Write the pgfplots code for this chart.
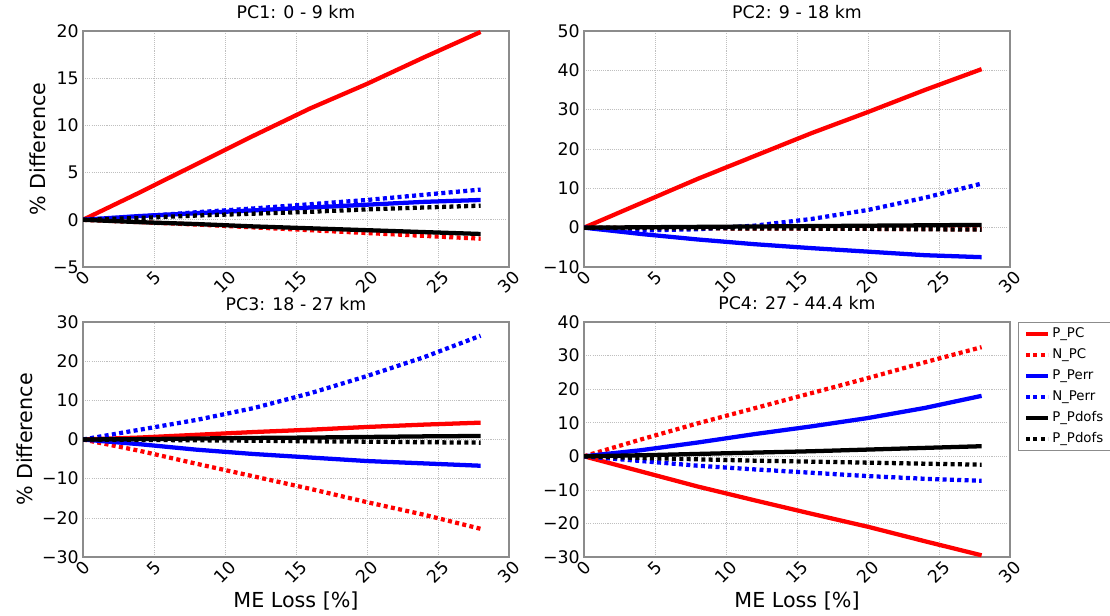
\documentclass[border=0pt]{standalone}
\usepackage{pgfplots}
\pgfplotsset{compat=1.18}
\usepackage{pgfplotstable}
\usepackage{graphicx}
\usepackage{fontspec}
\setmainfont{DejaVu Sans}

\pgfplotstableread{
x  PPC   NPC   PPerr NPerr PPd   NPd
0  0     0     0     0     0     0
4  2.9   -0.25 0.4   0.35  -0.25 0.2
8  5.9   -0.5  0.7   0.8   -0.45 0.45
12 8.9   -0.8  1.0   1.2   -0.7  0.65
16 11.8  -1.1  1.3   1.65  -0.9  0.85
20 14.4  -1.4  1.6   2.1   -1.1  1.1
24 17.2  -1.7  1.9   2.65  -1.3  1.3
28 19.9  -2.0  2.1   3.2   -1.5  1.5
}\tabA
\pgfplotstableread{
x  PPC   NPC   PPerr NPerr PPd   NPd
0  0     0     0     0     0     0
4  6.2   -0.1  -1.6  -0.7  0.1   -0.1
8  12.4  -0.15 -3.0  -0.4  0.2   -0.15
12 18.2  -0.2  -4.2  0.5   0.3   -0.2
16 24.0  -0.25 -5.2  2.2   0.4   -0.25
20 29.4  -0.3  -6.1  4.5   0.5   -0.3
24 35.0  -0.35 -7.0  7.6   0.6   -0.4
28 40.3  -0.4  -7.5  11.2  0.7   -0.5
}\tabB
\pgfplotstableread{
x  PPC   NPC   PPerr NPerr PPd   NPd
0  0     0     0     0     0     0
4  0.5   -2.9  -1.2  2.5   0.1   -0.1
8  1.2   -6.2  -2.6  5.0   0.25  -0.2
12 1.9   -9.4  -3.7  8.0   0.4   -0.3
16 2.5   -12.6 -4.6  11.8  0.5   -0.45
20 3.2   -16.0 -5.5  16.2  0.65  -0.55
24 3.8   -19.2 -6.1  21.0  0.8   -0.7
28 4.3   -22.8 -6.7  26.5  0.9   -0.8
}\tabC
\pgfplotstableread{
x  PPC   NPC   PPerr NPerr PPd   NPd
0  0     0     0     0     0     0
4  -4.5  5.0   1.8   -1.4  0.3   -0.5
8  -9.0  9.8   4.1   -2.8  0.7   -0.9
12 -13.1 14.3  6.6   -3.9  1.1   -1.3
16 -17.1 18.8  8.9   -4.9  1.5   -1.6
20 -21.0 23.3  11.4  -5.9  2.0   -1.9
24 -25.3 28.0  14.4  -6.7  2.5   -2.2
28 -29.5 32.5  18.0  -7.3  3.0   -2.5
}\tabD

\pgfplotsset{
  panel/.style={
    scale only axis, width=319.5pt, height=177pt, anchor=south west,
    xmin=0, xmax=30, xtick={0,5,10,15,20,25,30},
    xticklabels={\rotatebox{45}{0},\rotatebox{45}{5},\rotatebox{45}{10},\rotatebox{45}{15},\rotatebox{45}{20},\rotatebox{45}{25},\rotatebox{45}{30}},
    xticklabel style={anchor=north, inner sep=1pt, yshift=-1pt},
    yticklabel style={anchor=east, inner sep=1pt, xshift=-2pt},
    tick label style={font=\fontsize{13}{13}\selectfont},
    major tick length=0pt,
    grid=major,
    grid style={gray!50, line width=0.5pt, dash pattern=on 0.8pt off 0.8pt},
    axis line style={gray!90, line width=1pt},
    title style={at={(axis description cs:0.5,1)}, anchor=base, yshift=3pt, font=\fontsize{13}{13}\selectfont},
    every axis x label/.style={at={(axis description cs:0.5,-0.217)}, anchor=base, font=\fontsize{15.5}{16}\selectfont},
    every axis y label/.style={at={(axis description cs:-0.1056,0.5)}, rotate=90, anchor=center, font=\fontsize{15.5}{16}\selectfont},
    legend image code/.code={\draw[##1] (0pt,0pt) -- (16.5pt,0pt);},
  },
  sol/.style={line width=3.2pt, line join=round, solid},
  dot/.style={line width=3.2pt, line cap=butt, dash pattern=on 3pt off 2.5pt},
}

\newcommand{\sixplots}[1]{%
  \addplot[red, sol, no marks] table[x=x, y=PPC] {#1};
  \addplot[red, dot, no marks] table[x=x, y=NPC] {#1};
  \addplot[blue, sol, no marks] table[x=x, y=PPerr] {#1};
  \addplot[blue, dot, no marks] table[x=x, y=NPerr] {#1};
  \addplot[black, sol, no marks] table[x=x, y=PPd] {#1};
  \addplot[black, dot, no marks] table[x=x, y=NPd] {#1};
}

\begin{document}
\begin{tikzpicture}
\path (0,0) rectangle (832.5pt,460.5pt);

\begin{axis}[panel, at={(62.25pt,260.25pt)},
  title={PC1: 0 - 9 km},
  ymin=-5, ymax=20, ytick={-5,0,5,10,15,20},
  yticklabels={−5,0,5,10,15,20},
  ylabel={\% Difference}]
\sixplots{\tabA}
\end{axis}

\begin{axis}[panel, at={(438pt,260.25pt)},
  title={PC2: 9 - 18 km},
  ymin=-10, ymax=50, ytick={-10,0,10,20,30,40,50},
  yticklabels={−10,0,10,20,30,40,50}]
\sixplots{\tabB}
\end{axis}

\begin{axis}[panel, at={(62.25pt,42.75pt)}, height=176.25pt,
  title={PC3: 18 - 27 km},
  ymin=-30, ymax=30, ytick={-30,-20,-10,0,10,20,30},
  yticklabels={−30,−20,−10,0,10,20,30},
  every axis y label/.style={at={(axis description cs:-0.1362,0.5)}, rotate=90, anchor=center, font=\fontsize{15.5}{16}\selectfont},
  ylabel={\% Difference}, xlabel={ME Loss [\%]}]
\sixplots{\tabC}
\end{axis}

\begin{axis}[panel, at={(438pt,42.75pt)}, height=176.25pt,
  title={PC4: 27 - 44.4 km},
  ymin=-30, ymax=40, ytick={-30,-20,-10,0,10,20,30,40},
  yticklabels={−30,−20,−10,0,10,20,30,40},
  xlabel={ME Loss [\%]},
  legend style={at={(axis description cs:1,1)}, xshift=6pt, anchor=north west, overlay,
    draw=gray!90, line width=1pt, font=\fontsize{10}{10}\selectfont,
    inner xsep=4pt, inner ysep=2.5pt, row sep=3.5pt,
    nodes={inner sep=1.5pt, text height=7pt, text depth=2.2pt},
    /tikz/every even column/.append style={column sep=8pt}},
  legend cell align=left]
\sixplots{\tabD}
\legend{P\_PC,N\_PC,P\_Perr,N\_Perr,P\_Pdofs,P\_Pdofs}
\end{axis}
\end{tikzpicture}
\end{document}
